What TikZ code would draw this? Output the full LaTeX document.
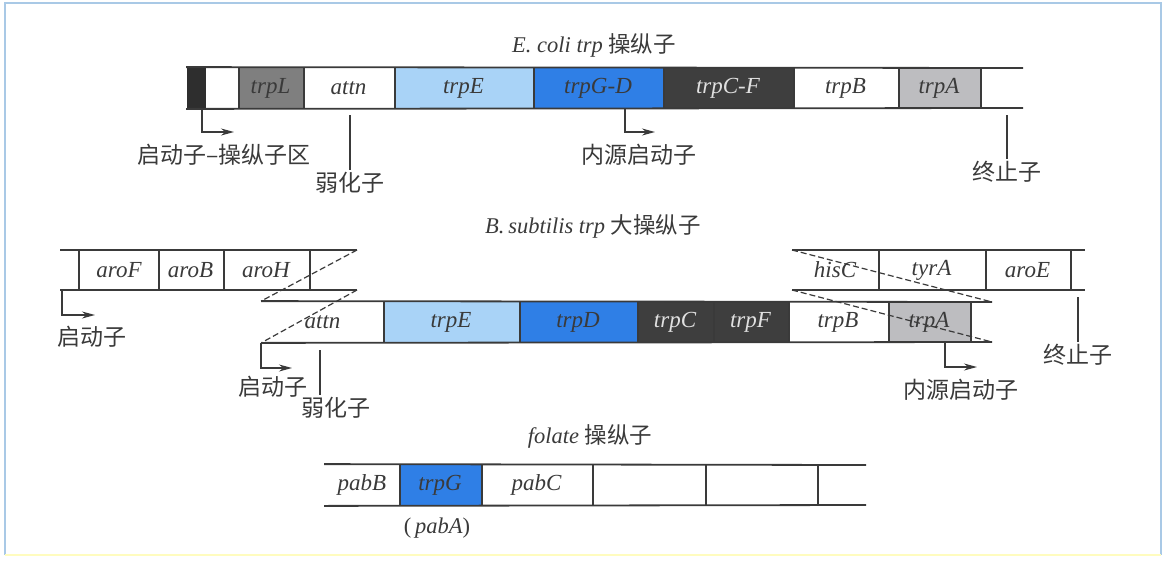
\documentclass[tikz,border=0pt]{standalone}
\usepackage{fontspec}
\setmainfont{Liberation Serif}
\newfontfamily\cjk{Noto Sans CJK SC}
\usepackage{tikz}
\usetikzlibrary{arrows.meta}
\definecolor{lineg}{HTML}{3A3A3A}
\definecolor{blueL}{HTML}{A9D3F7}
\definecolor{blueD}{HTML}{2F7FE6}
\definecolor{greyD}{HTML}{3E3E3E}
\definecolor{greyM}{HTML}{7F7F7F}
\definecolor{greyL}{HTML}{BDBDC0}
\definecolor{frameb}{HTML}{A9C9E6}

\begin{document}
\begin{tikzpicture}[>={Stealth[length=13pt,width=7pt]},x=1pt,y=-1pt,color=lineg,line width=1.8pt,
  gene/.style={inner sep=0,minimum height=40,text=lineg,font=\fontsize{23}{23}\selectfont\itshape},
  ttl/.style={text=lineg,font=\fontsize{22.5}{22.5}\selectfont},
  lab/.style={text=lineg,inner sep=2,font=\fontsize{23}{23}\selectfont\cjk},
  ann/.style={line width=1.3pt},
  dsh/.style={line width=1.2pt,dash pattern=on 6pt off 3pt}]
  \useasboundingbox (0,0) rectangle (1164,562);
  \draw[frameb,line width=1.5pt] (5,555) -- (5,3) -- (1161,3) -- (1161,555);
  \draw[yellow!25,line width=1.5pt] (5,555) -- (1161,555);

  % E. coli trp operon
  \node[ttl] (ecT) at (594,45) {\textit{E. coli trp} {\cjk 操纵子}};
  \node[gene,fill=black!82,minimum width=19] (ecBlk) at (196.5,88) {};
  \node[gene,minimum width=32] (ecOp) at (222,88) {};
  \node[gene,fill=greyM,minimum width=65] (ecL) at (270.5,88) {trpL};
  \node[gene,minimum width=91] (ecAttn) at (348.5,88) {attn};
  \node[gene,fill=blueL,minimum width=139] (ecE) at (463.5,88) {trpE};
  \node[gene,fill=blueD,minimum width=130] (ecGD) at (598,88) {trpG-D};
  \node[gene,fill=greyD,text=white!88!black,minimum width=130] (ecCF) at (728,88) {trpC-F};
  \node[gene,minimum width=105] (ecB) at (845.5,88) {trpB};
  \node[gene,fill=greyL,minimum width=82] (ecA) at (939,88) {trpA};
  \draw (ecBlk.north west) -- (1023,68) (ecBlk.south west) -- (1023,108);
  \foreach \g in {ecOp,ecL,ecAttn,ecE,ecGD,ecCF,ecB,ecA}
    \draw (\g.north east) -- (\g.south east);
  \coordinate (ecP) at (202,108); \coordinate (ecPe) at (234,132);
  \coordinate (ecIP) at (625,108); \coordinate (ecIPe) at (655,132);
  \coordinate (ecWk) at (350,115); \coordinate (ecTm) at (1007,115);
  \node[lab] (ecPL) at (224,155) {启动子–操纵子区};
  \node[lab] (ecWkL) at (350,183) {弱化子};
  \node[lab] (ecIPL) at (639,155) {内源启动子};
  \node[lab] (ecTmL) at (1007,172) {终止子};
  \draw[ann,->] (ecP) |- (ecPe);
  \draw[ann,->] (ecIP) |- (ecIPe);
  \draw[ann] (ecWk) -- (ecWkL.north);
  \draw[ann] (ecTm) -- (ecTmL.north);

  % B. subtilis trp supraoperon
  \node[ttl] (bsT) at (593,226) {\textit{B.\,subtilis trp} {\cjk 大操纵子}};
  \node[gene,minimum width=78] (aroF) at (119,270) {aroF};
  \node[gene,minimum width=65] (aroB) at (190.5,270) {aroB};
  \node[gene,minimum width=86] (aroH) at (266,270) {aroH};
  \draw (60,250) -- (357,250) (60,290) -- (357,290);
  \foreach \g in {aroF,aroB,aroH}
    \draw (\g.north east) -- (\g.south east);
  \draw (aroF.north west) -- (aroF.south west);
  \node[gene,minimum width=86] (hisC) at (835,270) {hisC};
  \node[gene,minimum width=107] (tyrA) at (931.5,270) {tyrA};
  \node[gene,minimum width=85] (aroE) at (1027.5,270) {aroE};
  \draw (792,250) -- (1085,250) (792,290) -- (1085,290);
  \foreach \g in {hisC,tyrA,aroE}
    \draw (\g.north east) -- (\g.south east);
  \node[gene,minimum width=121] (bsAttn) at (322.5,322) {attn};
  \node[gene,fill=blueL,minimum width=136] (bsE) at (451,322) {trpE};
  \node[gene,fill=blueD,minimum width=118] (bsD) at (578,322) {trpD};
  \node[gene,fill=greyD,text=white!88!black,minimum width=76] (bsC) at (675,322) {trpC};
  \node[gene,fill=greyD,text=white!88!black,minimum width=75] (bsF) at (750.5,322) {trpF};
  \node[gene,minimum width=100] (bsB) at (838,322) {trpB};
  \node[gene,fill=greyL,minimum width=82] (bsA) at (929,322) {trpA};
  \draw (bsAttn.north west) -- (992,302) (bsAttn.south west) -- (992,342);
  \foreach \g in {bsAttn,bsE,bsD,bsC,bsF,bsB,bsA}
    \draw (\g.north east) -- (\g.south east);
  % joins between the pieces
  \coordinate (aroTR) at (357,250); \coordinate (aroBR) at (357,290);
  \coordinate (hisTL) at (792,250); \coordinate (hisBL) at (792,290);
  \coordinate (bsTR) at (992,302); \coordinate (bsBR) at (992,342);
  \draw[dsh] (aroTR) -- (bsAttn.north west);
  \draw[dsh] (aroBR) -- (bsAttn.south west);
  \draw[dsh] (hisTL) -- (bsTR);
  \draw[dsh] (hisBL) -- (bsBR);
  \coordinate (aroP) at (62,290); \coordinate (aroPe) at (95,315);
  \coordinate (bsPe) at (292,368); \coordinate (bsWk) at (320,350);
  \coordinate (bsIP) at (945,342); \coordinate (bsIPe) at (977,367);
  \coordinate (bsTm) at (1078,297);
  \node[lab] (aroPL) at (92,337) {启动子};
  \node[lab] (bsPL) at (273,387) {启动子};
  \node[lab] (bsWkL) at (336,408) {弱化子};
  \node[lab] (bsIPL) at (961,390) {内源启动子};
  \node[lab] (bsTmL) at (1078,355) {终止子};
  \draw[ann,->] (aroP) |- (aroPe);
  \draw[ann,->] (bsAttn.south west) |- (bsPe);
  \draw[ann,->] (bsIP) |- (bsIPe);
  \draw[ann] (bsWk) -- (bsWk|-bsWkL.north);
  \draw[ann] (bsTm) -- (bsTmL.north);

  % folate operon
  \node[ttl] (foT) at (590,436) {\textit{folate} {\cjk 操纵子}};
  \node[gene,minimum width=74] (pabB) at (362,485) {pabB};
  \node[gene,fill=blueD,minimum width=82] (trpG) at (440,485) {trpG};
  \node[gene,minimum width=111] (pabC) at (536.5,485) {pabC};
  \node[gene,minimum width=113] (fo4) at (648.5,485) {};
  \node[gene,minimum width=112] (fo5) at (761,485) {};
  \draw (pabB.north west) -- (866,465) (pabB.south west) -- (866,505);
  \foreach \g in {pabB,trpG,pabC,fo4,fo5}
    \draw (\g.north east) -- (\g.south east);
  \node[ttl] (pabA) at (437,528) {(\,\textit{pabA})};
\end{tikzpicture}
\end{document}
